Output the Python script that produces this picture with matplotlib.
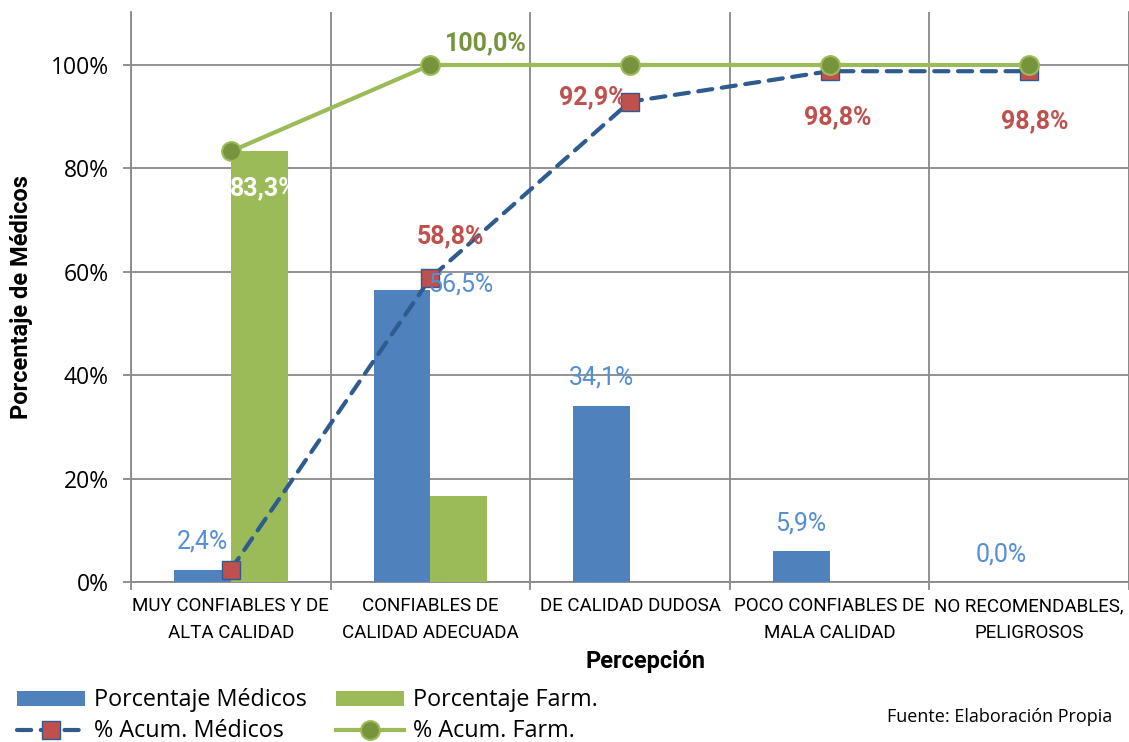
import matplotlib
matplotlib.use('Agg')
import matplotlib.pyplot as plt
from matplotlib.lines import Line2D
from matplotlib.patches import Patch
from matplotlib.ticker import FuncFormatter
import numpy as np

categories = ['MUY CONFIABLES Y DE\nALTA CALIDAD', 'CONFIABLES DE\nCALIDAD ADECUADA',
              'DE CALIDAD DUDOSA', 'POCO CONFIABLES DE\nMALA CALIDAD', 'NO RECOMENDABLES,\nPELIGROSOS']
pct_medicos = [2.4, 56.5, 34.1, 5.9, 0.0]
pct_farm = [83.3, 16.7, 0.0, 0.0, 0.0]
acum_medicos = [2.4, 58.8, 92.9, 98.8, 98.8]
acum_farm = [83.3, 100.0, 100.0, 100.0, 100.0]
yticks = [0, 20, 40, 60, 80, 100]

c_med = '#4F81BD'
c_farm = '#9BBB59'
c_acum_med = '#2F5B8F'
c_red = '#C0504D'
c_green_dark = '#77933C'
c_blue_lbl = '#558ED5'
c_grid = '#898989'

narrow = ['Roboto', 'DejaVu Sans']
sans = ['Open Sans', 'DejaVu Sans']

fig = plt.figure(figsize=(11.29, 7.42), dpi=100)
ax = fig.add_axes([131/1129, 1-582/742, 998/1129, 570/742])

x = np.arange(len(categories))
w = 0.285
ax.bar(x - w/2, pct_medicos, w, color=c_med, edgecolor='none', zorder=3)
ax.bar(x + w/2, pct_farm, w, color=c_farm, edgecolor='none', zorder=3)

ax.plot(x, acum_medicos, color=c_acum_med, lw=3, ls=(0, (3.4, 2.3)), dash_capstyle='round',
        marker='s', markersize=13, markerfacecolor=c_red, markeredgecolor=c_acum_med,
        markeredgewidth=1, zorder=5)
ax.plot(x, acum_farm, color=c_farm, lw=3, marker='o', markersize=13.5,
        markerfacecolor=c_green_dark, markeredgecolor=c_farm, markeredgewidth=1.5, zorder=6)

def fmt(v):
    return ('%.1f%%' % v).replace('.', ',')

# data labels
for i, v in enumerate(pct_medicos):
    off = (42.5, 3.6) if i == 1 else (0, 20)
    ax.annotate(fmt(v), xy=(x[i] - w/2, v), xytext=off, textcoords='offset points',
                ha='center', va='center', color=c_blue_lbl, fontsize=18, family=narrow, zorder=8)

ax.annotate(fmt(pct_farm[0]), xy=(x[0] + w/2, pct_farm[0]), xytext=(3, -26.6), textcoords='offset points',
            ha='center', va='center', color='white', fontsize=18, fontweight='bold', family=narrow, zorder=8)

med_offsets = {1: (14.4, 30.2), 2: (-26.6, 2.9), 3: (5.8, -33.1), 4: (4.3, -36)}
for i, off in med_offsets.items():
    ax.annotate(fmt(acum_medicos[i]), xy=(x[i], acum_medicos[i]), xytext=off, textcoords='offset points',
                ha='center', va='center', color=c_red, fontsize=18, fontweight='bold', family=narrow, zorder=8)

ax.annotate(fmt(acum_farm[1]), xy=(x[1], acum_farm[1]), xytext=(39.6, 15.8), textcoords='offset points',
            ha='center', va='center', color=c_green_dark, fontsize=18, fontweight='bold', family=narrow, zorder=8)

# axes
ax.set_xlim(-0.5, len(categories) - 0.5)
ax.set_ylim(0, 110.25)
ax.set_yticks(yticks)
ax.yaxis.set_major_formatter(FuncFormatter(lambda v, p: '%d%%' % v))
ax.set_xticks(x)
ax.set_xticklabels(categories, family=narrow, fontsize=13.5, linespacing=1.62)
ax.set_xticks(np.arange(len(categories) + 1) - 0.5, minor=True)
ax.tick_params(axis='x', which='major', length=0, pad=11)
ax.tick_params(axis='x', which='minor', length=6, width=1.3, color=c_grid)
ax.tick_params(axis='y', length=6, width=1.3, color=c_grid, pad=10, labelsize=16.5)
for lbl in ax.get_yticklabels():
    lbl.set_family(sans)

ax.grid(axis='y', which='major', color=c_grid, lw=1.3, zorder=0)
ax.grid(axis='x', which='minor', color=c_grid, lw=1.3, zorder=0)
ax.set_axisbelow(True)
for s in ['left', 'bottom', 'right']:
    ax.spines[s].set_color(c_grid)
    ax.spines[s].set_linewidth(1.3)
ax.spines['top'].set_visible(False)

ax.set_xlabel('Percepción', family=narrow, fontsize=17, fontweight='bold', va='center')
ax.xaxis.set_label_coords(0.5155, -0.140)
ax.set_ylabel('Porcentaje de Médicos', family=narrow, fontsize=17, fontweight='bold')
ax.yaxis.set_label_coords(-0.098, 0.5)

handles = [Patch(facecolor=c_med),
           Line2D([], [], color=c_acum_med, lw=3, ls=(0, (3.4, 2.3)), dash_capstyle='round', marker='s',
                  markersize=13, markerfacecolor=c_red, markeredgecolor=c_acum_med, markeredgewidth=1),
           Patch(facecolor=c_farm),
           Line2D([], [], color=c_farm, lw=3, marker='o', markersize=13.5,
                  markerfacecolor=c_green_dark, markeredgecolor=c_farm, markeredgewidth=1.5)]
labels = ['Porcentaje Médicos', '% Acum. Médicos', 'Porcentaje Farm.', '% Acum. Farm.']
fig.legend(handles, labels, ncol=2, loc='upper left', bbox_to_anchor=(0.005, 0.088), frameon=False,
           prop={'family': sans, 'size': 16.8}, handlelength=2.9, handleheight=0.6, handletextpad=0.4,
           columnspacing=1.25, borderpad=0, labelspacing=0.3)

fig.text(1112/1129, 1 - 717/742, 'Fuente: Elaboración Propia', ha='right', va='center',
         fontsize=13, family=sans)

fig.savefig('out.png', dpi=100)
